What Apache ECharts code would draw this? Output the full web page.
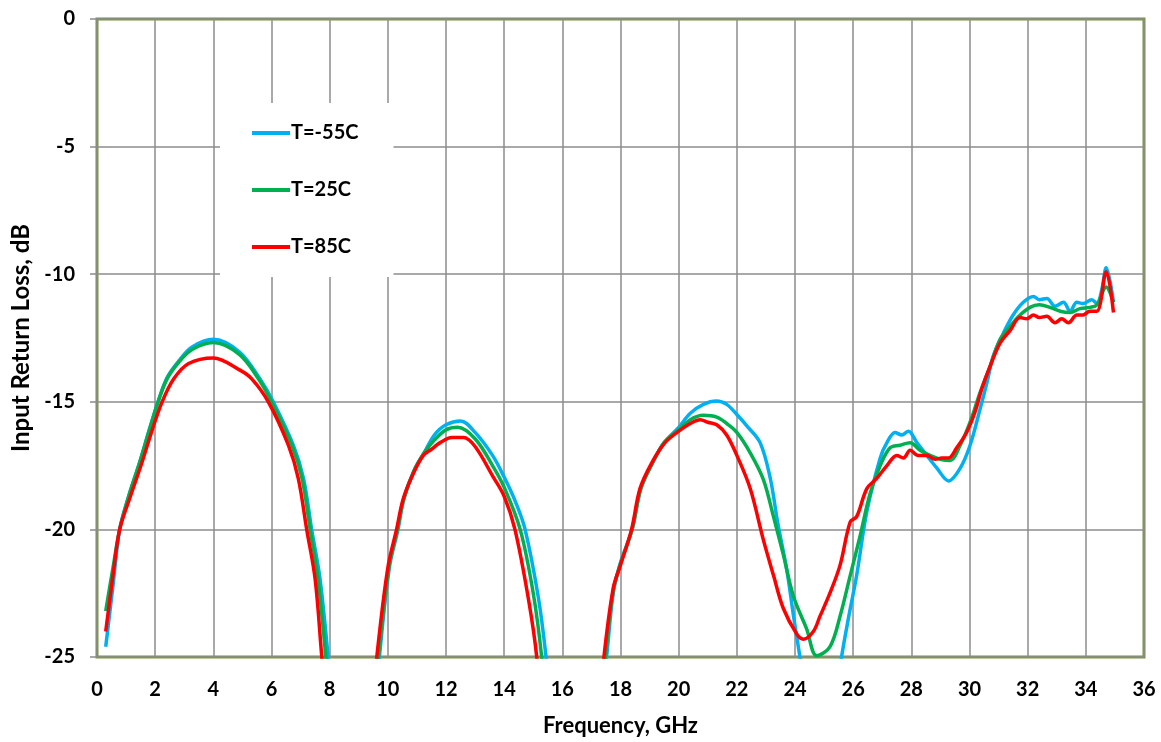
<!DOCTYPE html>
<html><head><meta charset="utf-8">
<script src="https://cdn.jsdelivr.net/npm/echarts@6/dist/echarts.min.js"></script>
<style>html,body{margin:0;padding:0;background:#fff}#c{width:1161px;height:742px}</style>
</head><body><div id="c"></div>
<script>
const seriesNames = ['T=-55C', 'T=25C', 'T=85C'];
const xTicks = [0, 36, 2];
const yTicks = [-25, 0, 5];

const freqM55 = [0.3,0.55,0.78,1.09,1.46,1.8,2.1,2.41,2.81,3.27,4.0,4.9,5.6,6.06,6.75,7.1,7.38,7.67,7.95,8.3,
  9.3,9.71,10.05,10.35,10.55,10.9,11.25,11.6,12.0,12.5,13.0,13.6,14.0,14.4,14.72,15.18,15.44,15.9,
  17.0,17.52,17.75,18.0,18.4,18.7,19.1,19.5,20.0,20.4,20.85,21.3,21.65,22.0,22.35,22.8,23.15,23.4,23.72,23.95,24.17,24.6,
  25.2,25.6,25.85,26.12,26.47,26.93,27.16,27.44,27.67,27.9,28.19,28.53,28.88,29.28,29.68,30.02,30.36,30.6,30.82,31.17,31.5,31.85,
  32.2,32.4,32.66,32.94,33.23,33.46,33.69,33.9,34.2,34.38,34.55,34.7,34.95];
const valM55 = [-24.6,-22.2,-20.0,-18.7,-17.4,-16.1,-15.0,-14.05,-13.4,-12.85,-12.55,-13.05,-14.1,-15.0,-16.7,-18.0,-20.0,-21.95,-25,-29,
  -30,-25,-21.5,-20.0,-18.8,-17.7,-17.0,-16.3,-15.9,-15.75,-16.2,-17.1,-17.95,-18.95,-20.0,-22.7,-25,-30,
  -30,-25,-22.5,-21.3,-20.0,-18.4,-17.4,-16.6,-16.0,-15.45,-15.1,-14.97,-15.1,-15.5,-15.95,-16.6,-18.0,-19.7,-21.6,-23.4,-25,-28,
  -28,-25,-23.4,-21.8,-19.3,-17.2,-16.6,-16.2,-16.3,-16.15,-16.6,-17.1,-17.6,-18.1,-17.6,-16.7,-15.3,-14.25,-13.2,-12.3,-11.6,-11.1,
  -10.87,-11.0,-10.95,-11.26,-11.1,-11.45,-11.1,-11.15,-11.0,-11.15,-10.6,-9.75,-11.1];

const freq25 = [0.3,0.55,0.78,1.09,1.46,1.8,2.1,2.41,2.81,3.27,4.0,4.9,5.55,6.0,6.7,7.05,7.33,7.6,7.87,8.2,
  9.3,9.68,10.05,10.33,10.55,10.9,11.25,11.6,12.0,12.4,13.0,13.6,14.0,14.55,15.0,15.29,15.7,
  17.0,17.48,17.75,18.0,18.4,18.7,19.1,19.5,20.0,20.4,20.85,21.31,21.65,22.0,22.46,22.91,23.26,23.6,23.94,24.4,24.75,25.2,25.55,25.9,
  26.24,26.58,26.93,27.27,27.61,27.96,28.3,28.64,28.99,29.33,29.68,30.02,30.36,30.71,31.05,31.4,31.74,32.08,32.4,32.77,33.12,33.46,
  33.8,34.14,34.38,34.7,34.95];
const val25 = [-23.2,-21.5,-20.0,-18.7,-17.4,-16.1,-15.0,-14.1,-13.45,-12.95,-12.68,-13.15,-14.1,-15.0,-16.7,-18.0,-20.0,-21.95,-25,-29,
  -30,-25,-21.4,-20.0,-18.8,-17.7,-17.0,-16.5,-16.1,-16.0,-16.45,-17.5,-18.35,-20.0,-22.5,-25,-30,
  -30,-25,-22.4,-21.35,-20.0,-18.4,-17.4,-16.6,-16.1,-15.7,-15.53,-15.6,-15.85,-16.2,-17.0,-18.04,-19.5,-21.0,-22.6,-23.9,-24.95,-24.6,-23.4,-21.8,
  -20.25,-18.6,-17.5,-16.8,-16.7,-16.6,-16.9,-17.1,-17.25,-17.3,-16.7,-15.8,-14.65,-13.6,-12.56,-12.04,-11.6,-11.3,-11.2,-11.3,-11.45,-11.5,
  -11.35,-11.3,-11.2,-10.5,-11.1];

const freq85 = [0.3,0.55,0.78,1.15,1.54,1.9,2.24,2.64,3.15,4.0,4.9,5.32,5.89,6.58,6.92,7.21,7.5,7.73,8.05,
  9.2,9.62,10.0,10.3,10.53,10.88,11.22,11.5,11.8,12.2,12.6,13.0,13.6,14.0,14.37,14.83,15.12,15.5,
  17.0,17.43,17.75,18.0,18.38,18.67,19.07,19.53,20.0,20.4,20.74,21.0,21.31,21.65,22.0,22.46,22.91,23.26,23.6,24.06,24.29,24.63,24.86,25.2,25.55,25.9,
  26.12,26.47,26.81,27.16,27.5,27.73,27.96,28.24,28.53,28.82,29.05,29.28,29.56,29.9,30.19,30.42,30.71,31.05,31.4,31.74,31.97,32.2,
  32.4,32.66,32.94,33.17,33.4,33.69,33.9,34.14,34.38,34.7,34.95];
const val85 = [-24.0,-21.8,-20.0,-18.7,-17.4,-16.1,-15.0,-14.1,-13.5,-13.28,-13.75,-14.1,-15.0,-16.7,-18.0,-20.0,-21.95,-25,-29,
  -30,-25,-21.5,-20.0,-18.8,-17.8,-17.1,-16.86,-16.6,-16.4,-16.4,-16.75,-17.9,-18.7,-20.0,-22.7,-25,-30,
  -30,-25,-22.3,-21.4,-20.0,-18.4,-17.4,-16.6,-16.15,-15.85,-15.7,-15.8,-15.9,-16.3,-17.1,-18.4,-20.4,-21.8,-23.1,-24.1,-24.3,-24.0,-23.4,-22.5,-21.4,-19.7,
  -19.5,-18.4,-18.0,-17.5,-17.1,-17.2,-16.9,-17.1,-17.1,-17.25,-17.2,-17.2,-16.8,-16.2,-15.4,-14.5,-13.6,-12.7,-12.2,-11.7,-11.75,-11.6,
  -11.7,-11.65,-11.9,-11.75,-11.9,-11.6,-11.6,-11.45,-11.45,-9.9,-11.5];

const colors = ['#00b0f0', '#00b050', '#ff0000'];
const freqs = [freqM55, freq25, freq85];
const vals = [valM55, val25, val85];

const FONT = 'Lato, "Open Sans", sans-serif';
const chart = echarts.init(document.getElementById('c'), null, {renderer: 'canvas'});
chart.setOption({
  animation: false,
  backgroundColor: '#fff',
  grid: {left: 97, top: 19, right: 17, bottom: 84, show: true, borderColor: '#77933c', borderWidth: 3, backgroundColor: 'transparent'},
  legend: {
    orient: 'vertical', left: 220, top: 103,
    padding: [20, 35, 20, 32],
    backgroundColor: '#fff',
    itemWidth: 38, itemHeight: 4, itemGap: 37,
    icon: 'rect',
    textStyle: {fontFamily: FONT, fontWeight: 'bold', fontSize: 20, color: '#000', padding: [0, 0, 0, -4]},
    data: seriesNames
  },
  xAxis: {
    type: 'value', min: xTicks[0], max: xTicks[1], interval: xTicks[2],
    name: 'Frequency, GHz', nameLocation: 'middle', nameGap: 58,
    nameTextStyle: {fontFamily: FONT, fontWeight: 'bold', fontSize: 22, color: '#000'},
    axisLine: {show: false}, axisTick: {show: false},
    axisLabel: {margin: 23, fontFamily: FONT, fontWeight: 'bold', fontSize: 20, color: '#000'},
    splitLine: {show: true, lineStyle: {color: '#8c8c8c', width: 1.5}}
  },
  yAxis: {
    type: 'value', min: yTicks[0], max: yTicks[1], interval: yTicks[2],
    name: 'Input Return Loss, dB', nameLocation: 'middle', nameGap: 62,
    nameTextStyle: {fontFamily: FONT, fontWeight: 'bold', fontSize: 24, color: '#000'},
    axisLine: {show: false},
    axisTick: {show: true, length: 7, lineStyle: {color: '#8c8c8c', width: 1.5}},
    axisLabel: {margin: 22, fontFamily: FONT, fontWeight: 'bold', fontSize: 20, color: '#000'},
    splitLine: {show: true, lineStyle: {color: '#8c8c8c', width: 1.5}}
  },
  series: seriesNames.map((n, i) => ({
    name: n, type: 'line', showSymbol: false, symbol: 'none',
    smooth: 0.35, clip: true,
    color: colors[i],
    lineStyle: {color: colors[i], width: 3.5},
    data: freqs[i].map((f, k) => [f, vals[i][k]])
  }))
});
</script></body></html>
